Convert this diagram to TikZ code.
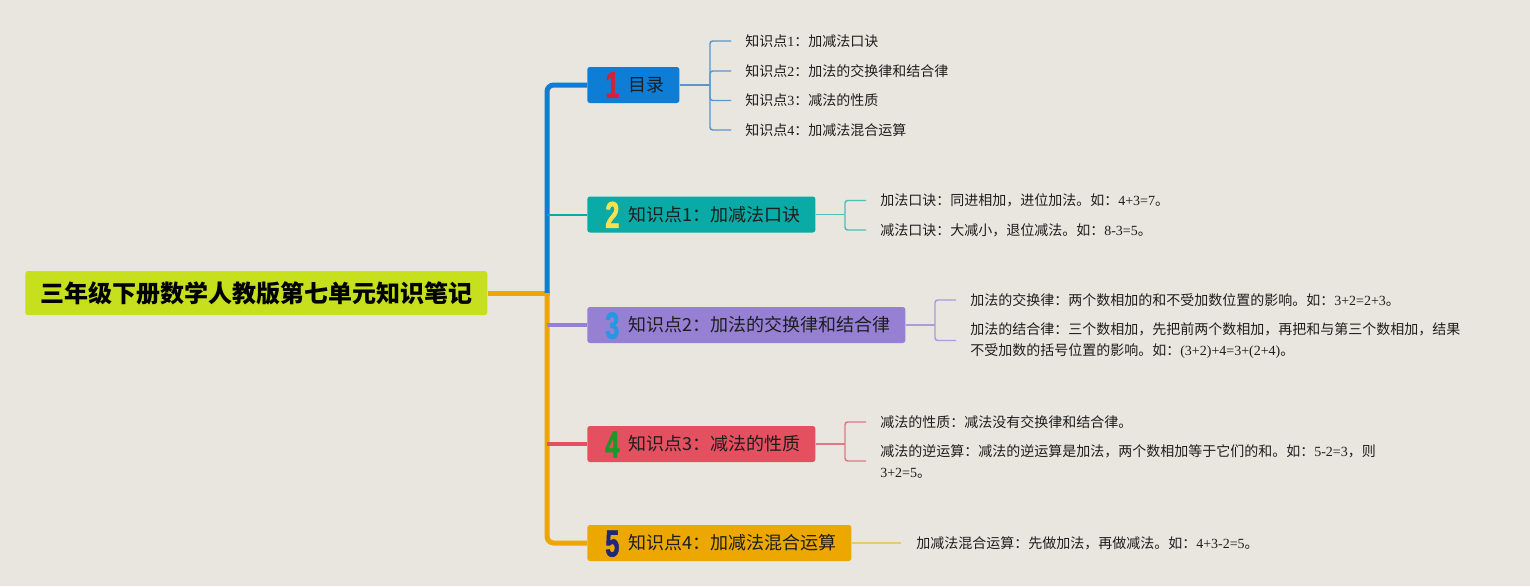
\documentclass[tikz,border=0pt]{standalone}
\usepackage{fontspec}
\setmainfont{Liberation Serif}
\newfontfamily\cjk{Noto Sans CJK SC}
\newfontfamily\numfont{Liberation Sans}
\usepackage{graphicx}
\usepackage{tikz}
\usetikzlibrary{positioning}
\definecolor{paper}{RGB}{232, 230, 222}
\definecolor{rootLime}{RGB}{198, 224, 30}
\definecolor{topicBlue}{RGB}{14, 125, 213}
\definecolor{topicTeal}{RGB}{10, 170, 167}
\definecolor{topicPurple}{RGB}{150, 128, 212}
\definecolor{topicRed}{RGB}{228, 80, 95}
\definecolor{topicGold}{RGB}{236, 168, 0}
\definecolor{numRed}{RGB}{214, 32, 52}
\definecolor{numYellow}{RGB}{248, 226, 80}
\definecolor{numBlue}{RGB}{40, 150, 225}
\definecolor{numGreen}{RGB}{30, 150, 40}
\definecolor{numNavy}{RGB}{30, 40, 120}
\definecolor{twigBlue}{RGB}{90, 150, 205}
\definecolor{twigTeal}{RGB}{80, 190, 185}
\definecolor{twigPurple}{RGB}{170, 155, 220}
\definecolor{twigRed}{RGB}{225, 120, 135}
\definecolor{twigGold}{RGB}{235, 200, 110}
\definecolor{ink}{RGB}{30, 30, 30}

\newcommand\rmn[1]{{\rmfamily #1}}
\newcommand\badge[2]{\hspace{2.5pt}\smash{\raisebox{-4.9pt}{\color{#1}\numfont\bfseries\addfontfeature{FakeBold=1.8}\fontsize{28}{28}\selectfont\scalebox{0.68}[1]{#2}}}\hspace{7pt}}

\tikzset{
  rootbox/.style={fill=rootLime, rounded corners=2pt, inner xsep=11.25pt,
    minimum height=33pt, anchor=west, text=black,
    font=\cjk\bfseries\fontsize{18}{18}\selectfont},
  topic/.style={fill=#1, rounded corners=2pt, inner xsep=11pt,
    minimum height=27pt, anchor=west, text=ink,
    font=\cjk\fontsize{13.5}{13.5}\selectfont},
  leaf/.style={inner sep=0pt, anchor=west, align=left, text=ink,
    font=\cjk\fontsize{10.5}{15.75}\selectfont},
  trunk/.style={line width=3.75pt, rounded corners=5pt},
  twig/.style={line width=1.1pt, rounded corners=2pt},
}

\begin{document}
\begin{tikzpicture}[x=0.75pt, y=-0.75pt]
  \fill[paper] (0,0) rectangle (1530,586);
  \useasboundingbox (0,0) rectangle (1530,586);

  % connectors first, boxes on top
  \coordinate (hub) at (547,293);
  \coordinate (j1) at (710,85);
  \coordinate (j2) at (845,214.5);
  \coordinate (j3) at (935,325);
  \coordinate (j4) at (845,444);

  % centre topic
  \node[rootbox] (root) at (25,293) {三年级下册数学人教版第七单元知识笔记};

  % main topics
  \node[topic=topicBlue] (n1) at (587,85) {\badge{numRed}{1}目录};
  \node[topic=topicTeal] (n2) at (587,214.5) {\badge{numYellow}{2}知识点1：加减法口诀};
  \node[topic=topicPurple] (n3) at (587,325) {\badge{numBlue}{3}知识点2：加法的交换律和结合律};
  \node[topic=topicRed] (n4) at (587,444) {\badge{numGreen}{4}知识点3：减法的性质};
  \node[topic=topicGold] (n5) at (587,543) {\badge{numNavy}{5}知识点4：加减法混合运算};

  % leaves
  \node[leaf] (l11) at (745,41) {知识点\rmn{1}：加减法口诀};
  \node[leaf] (l12) at (745,71) {知识点\rmn{2}：加法的交换律和结合律};
  \node[leaf] (l13) at (745,100.5) {知识点\rmn{3}：减法的性质};
  \node[leaf] (l14) at (745,130) {知识点\rmn{4}：加减法混合运算};

  \node[leaf] (l21) at (880,200.5) {加法口诀：同进相加，进位加法。如：\rmn{4+3=7}。};
  \node[leaf] (l22) at (880,230) {减法口诀：大减小，退位减法。如：\rmn{8-3=5}。};

  \node[leaf] (l31) at (970,300) {加法的交换律：两个数相加的和不受加数位置的影响。如：\rmn{3+2=2+3}。};
  \node[leaf] (l32) at (970,340.5) {加法的结合律：三个数相加，先把前两个数相加，再把和与第三个数相加，结果\\不受加数的括号位置的影响。如：\rmn{(3+2)+4=3+(2+4)}。};

  \node[leaf] (l41) at (880,422) {减法的性质：减法没有交换律和结合律。};
  \node[leaf] (l42) at (880,461) {减法的逆运算：减法的逆运算是加法，两个数相加等于它们的和。如：\rmn{5-2=3}，则\\\rmn{3+2=5}。};

  \node[leaf] (l51) at (916,543) {加减法混合运算：先做加法，再做减法。如：\rmn{4+3-2=5}。};

  % trunk
  \draw[trunk, topicGold] (root.east) -- ([xshift=1.9pt]hub);
  \draw[trunk, topicBlue] (hub) |- (n1.west);
  \draw[trunk, topicGold] (hub) |- (n5.west);
  \draw[line width=1.5pt, topicTeal] (hub |- n2.west) -- (n2.west);
  \draw[line width=3pt, topicPurple] (hub |- n3.west) -- (n3.west);
  \draw[line width=3pt, topicRed] (hub |- n4.west) -- (n4.west);

  % brackets
  \draw[twig, twigBlue] (n1.east) -- (j1);
  \foreach \i in {1,...,4}
    \draw[twig, twigBlue] (l1\i.west) ++(-14,0) -| (j1);
  \draw[twig, twigTeal] (n2.east) -- (j2);
  \foreach \i in {1,2}
    \draw[twig, twigTeal] (l2\i.west) ++(-14,0) -| (j2);
  \draw[twig, twigPurple] (n3.east) -- (j3);
  \foreach \i in {1,2}
    \draw[twig, twigPurple] (l3\i.west) ++(-14,0) -| (j3);
  \draw[twig, twigRed] (n4.east) -- (j4);
  \foreach \i in {1,2}
    \draw[twig, twigRed] (l4\i.west) ++(-14,0) -| (j4);
  \draw[twig, twigGold] (n5.east) -- ([xshift=-11pt]l51.west);
\end{tikzpicture}
\end{document}
